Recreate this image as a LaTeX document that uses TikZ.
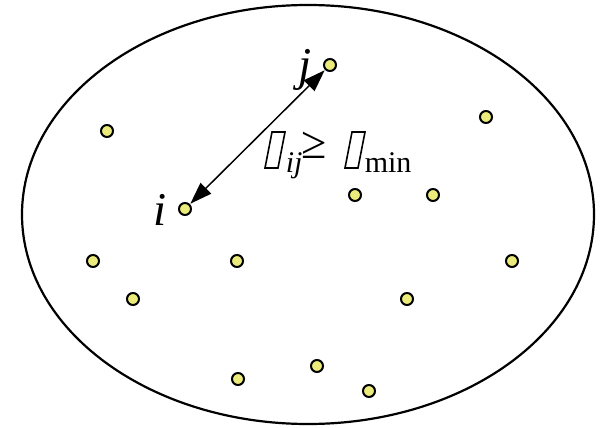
\documentclass[tikz,border=0pt]{standalone}
\usepackage{fontspec}
\setmainfont{Liberation Serif}
\usepackage{tikz}
\usetikzlibrary{arrows.meta,positioning,calc}
\usepackage{xcolor}
\definecolor{dotfill}{HTML}{EBEB7C}

\begin{document}
\begin{tikzpicture}[x=1pt, y=-1pt, line width=1.5pt,
  site/.style={circle, draw=black, fill=dotfill, line width=2pt, inner sep=0pt, minimum size=12pt},
  lbl/.style={inner sep=0pt, font=\fontsize{47}{50}\selectfont\itshape},
  rel/.style={inner sep=0pt, font=\fontsize{46}{50}\selectfont},
  sub/.style={inner sep=0pt, font=\fontsize{30}{32}\selectfont},
  nochar/.style={line width=1.6pt, line join=miter}]
\useasboundingbox (0,0) rectangle (608,428);
% region
\draw[line width=2.2pt] (308,214.5) ellipse [x radius=286, y radius=209.5];
% the two chosen sites
\node[site] (di) at (185,209) {};
\node[site] (dj) at (330,65) {};
\node[lbl, anchor=base east] (li) at ([xshift=-18pt, yshift=-16pt]di.center) {i};
\node[lbl, anchor=base east] (lj) at ([xshift=-18pt, yshift=-16pt]dj.center) {j};
% other sites
\foreach \px/\py [count=\k] in {107/131, 486/117, 355/195, 433/195, 93/261,
    237/261, 512/261, 133/299, 407/299, 238/379, 317/366, 369/391}
  \node[site] (d\k) at (\px,\py) {};
% distance between i and j
\draw[{Triangle[length=22pt,width=15pt]}-{Triangle[length=22pt,width=15pt]}, line width=1.5pt,
  shorten <=0.5pt, shorten >=0.5pt] (di) -- (dj);
% constraint
\draw[nochar] (265,168) -- (272,132) -- (285,132) -- (278,168) -- cycle;
\node[sub, anchor=base west] (sij) at (285,172) {\itshape ij};
\node[rel, anchor=base west] (geq) at (301,158) {≥};
\draw[nochar] (345,168) -- (352,132) -- (365,132) -- (358,168) -- cycle;
\node[sub, anchor=base west] (smin) at (364,172) {min};
\end{tikzpicture}
\end{document}
